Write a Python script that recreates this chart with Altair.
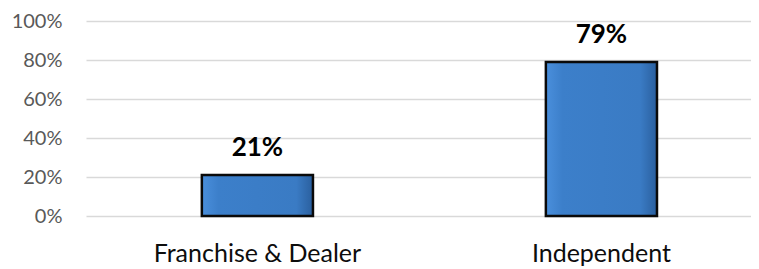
import altair as alt
import pandas as pd

categories = ["Franchise & Dealer", "Independent"]
shares = [0.21, 0.79]
labels = ["21%", "79%"]
y_ticks = [0, 0.2, 0.4, 0.6, 0.8, 1.0]

df = pd.DataFrame({"cat": categories, "share": shares, "label": labels})

x = alt.X("cat:N", sort=categories, title=None,
          scale=alt.Scale(paddingInner=0.677, paddingOuter=0.305, align=0.552),
          axis=alt.Axis(labelAngle=0, labelFont="Lato", labelFontSize=25, labelColor="#0d0d0d",
                        labelPadding=25, labelLimit=0, ticks=False, domain=False, grid=False))
y = alt.Y("share:Q", title=None,
          scale=alt.Scale(domain=[0, 1], nice=False),
          axis=alt.Axis(values=y_ticks, format=".0%", labelFont="Lato",
                        labelFontSize=20, labelColor="#595959", labelPadding=24, ticks=False,
                        labelOverlap=False, labelFlush=False, labelBound=False,
                        domain=False, grid=True, gridColor="#d9d9d9", gridWidth=1.5))

base = alt.Chart(df).encode(x=x, y=y)

bars = base.mark_bar(
    color=alt.Gradient(gradient="linear", x1=0, x2=1, y1=0, y2=0,
                       stops=[alt.GradientStop(color="#4a8fdc", offset=0),
                              alt.GradientStop(color="#3c7fca", offset=0.15),
                              alt.GradientStop(color="#3a7bc4", offset=0.85),
                              alt.GradientStop(color="#2a5f9e", offset=1)]),
    stroke="#0a0a0a", strokeWidth=2.5
)

text = base.mark_text(
    font="Lato", fontSize=26, fontWeight="bold", color="#000000", baseline="alphabetic", dy=-19
).encode(text="label:N")

chart = alt.layer(bars, text).properties(
    width=665, height=195,
    autosize=alt.AutoSizeParams(type="none"),
    padding={"left": 78, "top": 13, "right": 0, "bottom": 52}
).configure_view(stroke=None)

chart.save("out.html", embed_options={"renderer": "svg", "actions": False})
